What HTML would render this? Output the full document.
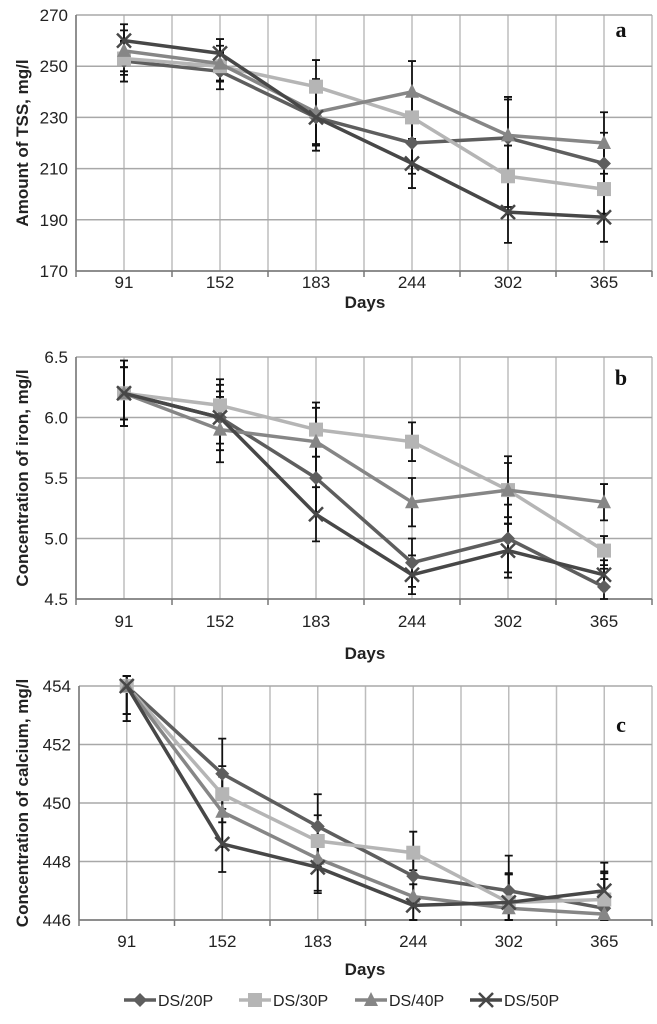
<!DOCTYPE html>
<html><head><meta charset="utf-8">
<style>
html,body{margin:0;padding:0;background:#fff;}
svg{display:block;font-family:"Liberation Sans",sans-serif;}
</style></head>
<body>
<svg id="fig" width="657" height="1024" viewBox="0 0 657 1024" xmlns="http://www.w3.org/2000/svg"></svg>
<script>
const categories = ["91","152","183","244","302","365"];
const seriesNames = ["DS/20P","DS/30P","DS/40P","DS/50P"];
const seriesColors = ["#5e5e5e","#b5b5b5","#868686","#474747"];
const markers = ["diamond","square","triangle","x"];

const tssTicks = [170,190,210,230,250,270];
const tss20 = [252,248,230,220,222,212];
const tss30 = [253,250,242,230,207,202];
const tss40 = [256,251,232,240,223,220];
const tss50 = [260,255,230,212,193,191];
const tssErr = [8,7,13,12,15,12];

const ironTicks = [4.5,5.0,5.5,6.0,6.5];
const iron20 = [6.2,6.0,5.5,4.8,5.0,4.6];
const iron30 = [6.2,6.1,5.9,5.8,5.4,4.9];
const iron40 = [6.2,5.9,5.8,5.3,5.4,5.3];
const iron50 = [6.2,6.0,5.2,4.7,4.9,4.7];
const ironErr = [0.27,0.27,0.28,0.2,0.28,0.15];

const caTicks = [446,448,450,452,454];
const ca20 = [454,451,449.2,447.5,447,446.4];
const ca30 = [454,450.3,448.7,448.3,446.6,446.7];
const ca40 = [454,449.7,448.1,446.8,446.4,446.2];
const ca50 = [454,448.6,447.8,446.5,446.6,447.0];
const caErr = [1.2,1.2,1.1,0.9,1.2,1.2];

const NS="http://www.w3.org/2000/svg";
const svg=document.getElementById('fig');
function mk(tag,attrs,parent){const e=document.createElementNS(NS,tag);for(const k in attrs)e.setAttribute(k,attrs[k]);(parent||svg).appendChild(e);return e;}

function drawMarker(g,type,x,y,color){
  let m;
  if(type==="diamond") m=mk('polygon',{points:`${x},${y-7} ${x+7},${y} ${x},${y+7} ${x-7},${y}`,fill:color},g);
  else if(type==="square") m=mk('rect',{x:x-7,y:y-7,width:14,height:14,fill:color},g);
  else if(type==="triangle") m=mk('polygon',{points:`${x},${y-8} ${x+7},${y+6} ${x-7},${y+6}`,fill:color},g);
  else {m=mk('path',{d:`M${x-7},${y-7}L${x+7},${y+7}M${x+7},${y-7}L${x-7},${y+7}`,stroke:color,'stroke-width':2.5},g);}
  
  
}

function chart(o){
  const g=mk('g',{});
  
  
  const x0=o.x0,x1=652,yT=o.yTop,yB=o.yBot;
  const tmin=o.ticks[0],tmax=o.ticks[o.ticks.length-1];
  const ys=v=>yB-(v-tmin)/(tmax-tmin)*(yB-yT);
  const bw=(x1-x0)/categories.length;
  const xs=i=>x0+bw*(i+0.5);
  // grid
  for(let k=0;k<=categories.length*2;k++){
    const x=x0+bw*k/2;
    mk('line',{x1:x,y1:yT,x2:x,y2:yB,stroke:'#bdbdbd','stroke-width':1.5},g);
  }
  o.ticks.forEach(t=>{
    const l=mk('line',{x1:x0,y1:ys(t),x2:x1,y2:ys(t),stroke:'#a8a8a8','stroke-width':1.5},g);
    
    
    const tx=mk('text',{x:x0-8,y:ys(t)+6,'text-anchor':'end','font-size':17,fill:'#222'},g);
    tx.textContent=o.fmt(t);
    
    
  });
  mk('line',{x1:x0,y1:yT,x2:x0,y2:yB,stroke:'#777','stroke-width':1.5},g);
  mk('line',{x1:x0,y1:yB,x2:x1,y2:yB,stroke:'#777','stroke-width':1.5},g);
  for(let k=0;k<=categories.length;k++){mk('line',{x1:x0+bw*k,y1:yB,x2:x0+bw*k,y2:yB+6,stroke:'#777','stroke-width':1.5},g);}
  categories.forEach((c,i)=>{
    const t=mk('text',{x:xs(i),y:o.labY,'text-anchor':'middle','font-size':17,fill:'#222'},g);
    t.textContent=c;
    
    
  });
  const d=mk('text',{x:365,y:o.daysY,'text-anchor':'middle','font-size':17,'font-weight':'bold',fill:'#222'},g);
  d.textContent='Days';
  
  
  const yt=mk('text',{x:0,y:0,transform:`translate(28,${(yT+yB)/2}) rotate(-90)`,'text-anchor':'middle','font-size':17,'font-weight':'bold',fill:'#222'},g);
  yt.textContent=o.ytitle;
  
  
  const pl=mk('text',{x:621,y:yT+o.letterDy,'text-anchor':'middle','font-size':22,'font-weight':'bold','font-family':'"Liberation Serif",serif',fill:'#111'},g);
  pl.textContent=o.letter;
  
  
  // error bars
  o.series.forEach((s,si)=>{
    s.forEach((v,i)=>{
      const x=xs(i), e=o.err[i]*(si%2?0.8:1);
      const top=Math.max(ys(v+e),yT-10), bot=Math.min(ys(v-e),yB);
      const eb=mk('path',{d:`M${x},${top}V${bot}M${x-4},${top}H${x+4}M${x-4},${bot}H${x+4}`,stroke:'#111','stroke-width':1.8,fill:'none'},g);
      
      
    });
  });
  o.series.forEach((s,si)=>{
    const sg=mk('g',{},g);
    
    
    mk('polyline',{points:s.map((v,i)=>xs(i)+','+ys(v)).join(' '),fill:'none',stroke:seriesColors[si],'stroke-width':3.5,'stroke-linejoin':'round'},sg);
    s.forEach((v,i)=>drawMarker(sg,markers[si],xs(i),ys(v),seriesColors[si]));
  });
}

chart({name:'chart-tss',x0:76,yTop:15,yBot:271,ticks:tssTicks,fmt:t=>String(t),series:[tss20,tss30,tss40,tss50],err:tssErr,labY:288,daysY:308,ytitle:'Amount of TSS, mg/l',letter:'a',letterDy:22});
chart({name:'chart-iron',x0:76,yTop:357,yBot:599,ticks:ironTicks,fmt:t=>t.toFixed(1),series:[iron20,iron30,iron40,iron50],err:ironErr,labY:627,daysY:659,ytitle:'Concentration of iron, mg/l',letter:'b',letterDy:28});
chart({name:'chart-calcium',x0:79,yTop:686,yBot:920,ticks:caTicks,fmt:t=>String(t),series:[ca20,ca30,ca40,ca50],err:caErr,labY:947,daysY:975,ytitle:'Concentration of calcium, mg/l',letter:'c',letterDy:46});

// legend
const lg=mk('g',{});


const lx=[124,239,355,470];
seriesNames.forEach((n,i)=>{
  const e=mk('g',{},lg);
  
  
  mk('line',{x1:lx[i],y1:1000,x2:lx[i]+32,y2:1000,stroke:seriesColors[i],'stroke-width':3.5},e);
  drawMarker(e,markers[i],lx[i]+16,1000,seriesColors[i]);
  const t=mk('text',{x:lx[i]+34,y:1006,'font-size':16,fill:'#222'},e);
  t.textContent=n;
});
</script>
</body></html>
